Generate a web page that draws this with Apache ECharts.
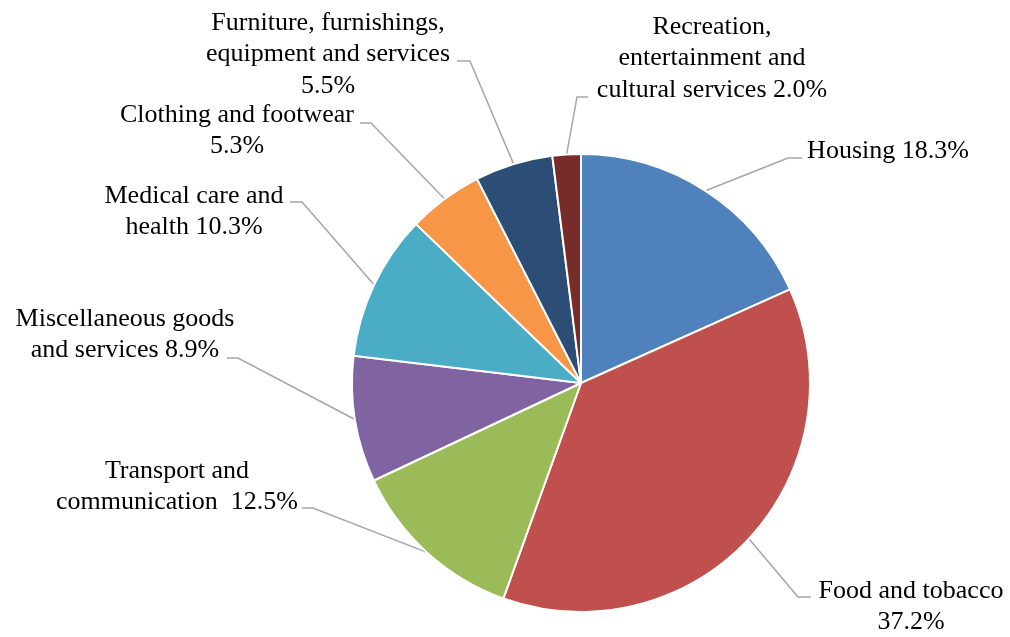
<!DOCTYPE html>
<html>
<head>
<meta charset="utf-8">
<script src="https://cdn.jsdelivr.net/npm/echarts@6/dist/echarts.min.js"></script>
<style>
html,body{margin:0;padding:0;background:#fff;}
#chart{width:1010px;height:637px;}
</style>
</head>
<body>
<div id="chart"></div>
<script>
const categories = [
  'Housing',
  'Food and tobacco',
  'Transport and\ncommunication ',
  'Miscellaneous goods\nand services',
  'Medical care and\nhealth',
  'Clothing and footwear',
  'Furniture, furnishings,\nequipment and services',
  'Recreation,\nentertainment and\ncultural services'
];
const shares = [18.3, 37.2, 12.5, 8.9, 10.3, 5.3, 5.5, 2.0];
const valueOnNewLine = [false, true, false, false, false, true, true, false];
const colors = ['#4F81BD', '#C0504D', '#9BBB59', '#8064A2', '#4BACC6', '#F79646', '#2C4D75', '#772C2A'];

// label placement: [centerX, topY, elbowX, elbowY, endX]
const labelSpots = [
  [888, 135, 788, 158, 802],
  [911, 575, 798, 597, 811],
  [177, 455, 313, 508, 302],
  [125, 303, 238, 358, 227],
  [194, 180, 302, 202, 290],
  [237, 99, 371, 123, 360],
  [328, 7, 470, 61, 457],
  [712, 11, 577, 97, 588]
];

const CX = 581, CY = 383, R = 229;
const total = shares.reduce((a, b) => a + b, 0);

function edgePoint(i) {
  let before = 0;
  for (let k = 0; k < i; k++) before += shares[k];
  const ang = (before + shares[i] / 2) / total * 2 * Math.PI;
  return [CX + R * Math.sin(ang), CY - R * Math.cos(ang)];
}

const chart = echarts.init(document.getElementById('chart'), null, {renderer: 'canvas'});
chart.setOption({
  animation: false,
  backgroundColor: '#ffffff',
  series: [{
    type: 'pie',
    center: [CX, CY],
    radius: R,
    startAngle: 90,
    clockwise: true,
    avoidLabelOverlap: false,
    itemStyle: {borderColor: '#ffffff', borderWidth: 2},
    label: {
      show: true,
      color: '#000000',
      fontFamily: '"Liberation Serif", "Times New Roman", serif',
      fontSize: 26,
      lineHeight: 31.5,
      align: 'center',
      formatter: p => p.name + (valueOnNewLine[p.dataIndex] ? '\n' : ' ') + p.value.toFixed(1) + '%'
    },
    labelLine: {
      show: true,
      lineStyle: {color: '#A6A6A6', width: 1.5}
    },
    labelLayout: function (params) {
      const s = labelSpots[params.dataIndex];
      const start = (params.labelLinePoints && params.labelLinePoints[0]) || edgePoint(params.dataIndex);
      return {
        x: s[0],
        y: s[1],
        align: 'center',
        verticalAlign: 'top',
        labelLinePoints: [start, [s[2], s[3]], [s[4], s[3]]]
      };
    },
    data: categories.map((n, i) => ({name: n, value: shares[i], itemStyle: {color: colors[i]}}))
  }]
});
</script>
</body>
</html>
